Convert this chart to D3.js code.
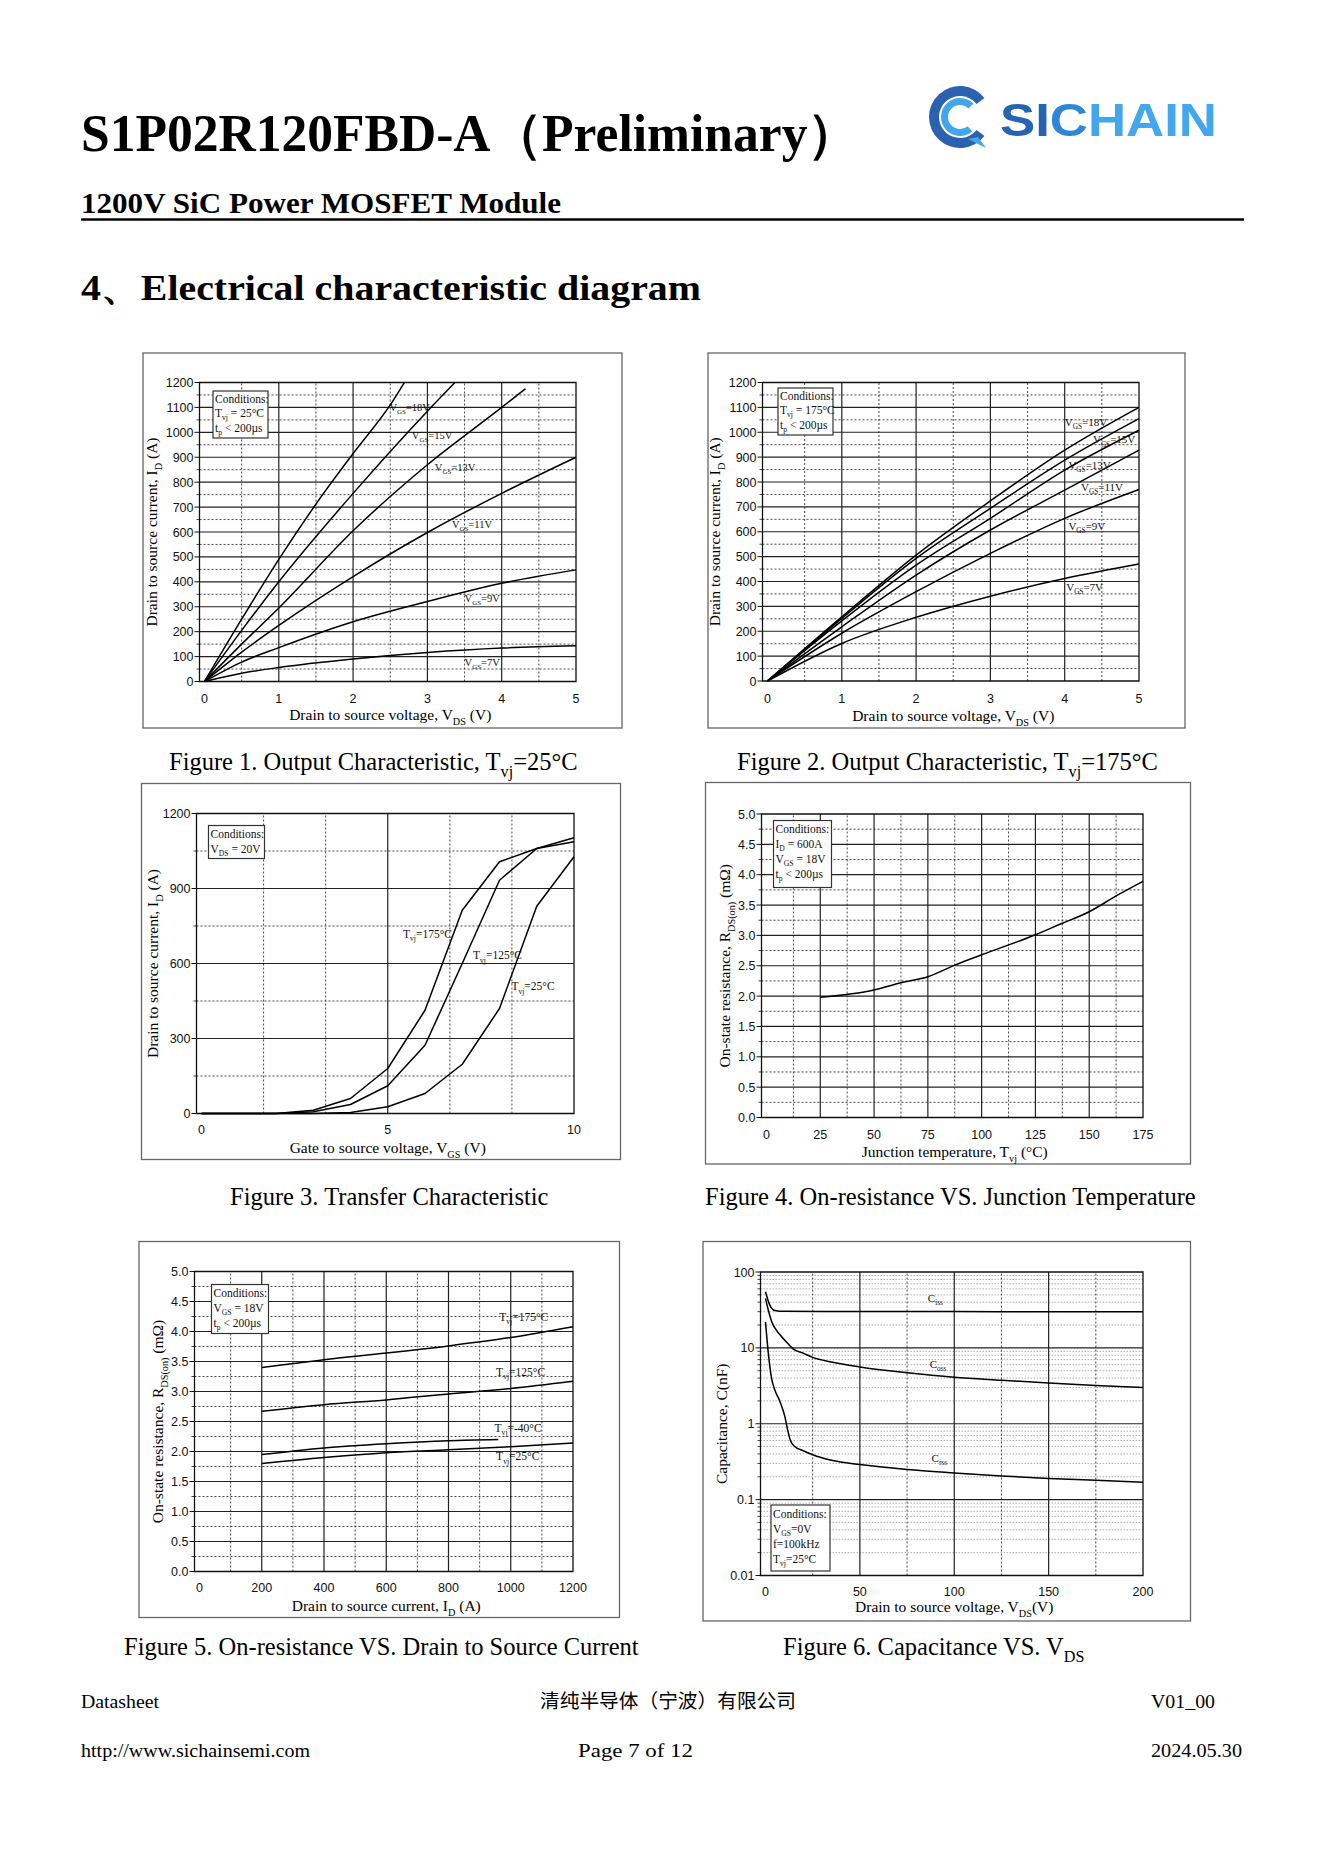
<!DOCTYPE html>
<html><head><meta charset="utf-8">
<script src="https://cdn.jsdelivr.net/npm/d3@7"></script>
<style>body{margin:0;background:#fff}svg{display:block}</style>
</head><body>
<script>
// ================= DATA =================
// Figure 1: Output characteristic, Tvj = 25°C  (VDS [V], ID [A])
const fig1_VGS18 = [[0,0],[0.5,250],[1,490],[1.5,712],[2,915],[2.5,1110],[2.69,1200]];
const fig1_VGS15 = [[0,0],[0.5,205],[1,400],[2,755],[3,1085],[3.37,1200]];
const fig1_VGS13 = [[0,0],[0.5,150],[1,295],[2,605],[3,870],[4,1100],[4.32,1175]];
const fig1_VGS11 = [[0,0],[0.5,118],[1,225],[2,421],[3,598],[4,755],[5,900]];
const fig1_VGS9  = [[0,0],[0.5,78],[1,136],[2,240],[3,321],[4,394],[5,448]];
const fig1_VGS7  = [[0,0],[0.5,33],[1,56],[2,90],[3,116],[4,134],[5,143]];
const fig1_labelText = ["18V","15V","13V","11V","9V","7V"];
const fig1_labelAt   = [[2.49,1103],[2.79,990],[3.1,860],[3.33,632],[3.5,334],[3.5,80]];

// Figure 2: Output characteristic, Tvj = 175°C
const fig2_VGS18 = [[0,0],[1,258],[2,506],[3,724],[4,928],[5,1100]];
const fig2_VGS15 = [[0,0],[1,252],[2,493],[3,694],[4,888],[5,1055]];
const fig2_VGS13 = [[0,0],[1,242],[2,466],[3,654],[4,848],[5,1008]];
const fig2_VGS11 = [[0,0],[1,218],[2,426],[3,607],[4,767],[5,928]];
const fig2_VGS9  = [[0,0],[1,192],[2,359],[3,513],[4,654],[5,770]];
const fig2_VGS7  = [[0,0],[1,151],[2,256],[3,341],[4,412],[5,470]];
const fig2_labelText = ["18V","15V","13V","11V","9V","7V"];
const fig2_labelAt   = [[4.0,1042],[4.38,971],[4.05,868],[4.22,781],[4.05,624],[4.02,379]];

// Figure 3: Transfer characteristic (VGS [V], ID [A])
const fig3_T175 = [[0,0],[2,0],[3,13],[4,60],[5,180],[6,413],[7,813],[8,1007],[9,1060],[10,1087]];
const fig3_T125 = [[0,0],[2,0],[3,7],[4,36],[5,111],[6,273],[7,600],[8,933],[9,1060],[10,1103]];
const fig3_T25  = [[0,0],[3,0],[4,4],[5,27],[6,80],[7,197],[8,420],[9,829],[10,1027]];
const fig3_labelText = ["175°C","125°C","25°C"];
const fig3_labelAt   = [[5.41,720],[7.29,633],[8.32,509]];

// Figure 4: RDS(on) vs junction temperature
const fig4_Tvj = [25,50,62.5,75,87.5,100,125,137.5,150,162.5,175];
const fig4_Rds = [1.98,2.10,2.22,2.32,2.51,2.68,3.01,3.20,3.39,3.65,3.89];

// Figure 5: RDS(on) vs drain current
const fig5_ID   = [200,400,600,800,1000,1200];
const fig5_R175 = [3.40,3.53,3.64,3.76,3.90,4.08];
const fig5_R125 = [2.67,2.78,2.86,2.96,3.05,3.17];
const fig5_R25  = [1.80,1.90,1.98,2.03,2.08,2.14];
const fig5_IDm40 = [200,400,600,800,960];
const fig5_Rm40  = [1.95,2.06,2.13,2.18,2.20];
const fig5_labelText = ["175°C","125°C","-40°C","25°C"];
const fig5_labelAt   = [[963,4.25],[953,3.33],[948,2.40],[953,1.92]];

// Figure 6: Capacitance vs VDS (V, nF)
const fig6_Ciss = [[0,55],[1,45],[2,38],[3,34],[4,32],[5,31],[7,30.5],[10,30.3],[50,30.2],[100,30.1],[150,30],[200,30]];
const fig6_Coss = [[0,45],[1.4,32],[3.2,22.4],[7.6,15],[12,11.3],[14.6,9.7],[20,8.5],[25,7.5],[35,6.5],[50,5.6],[75,4.7],[100,4.1],[125,3.75],[150,3.45],[175,3.2],[200,3.0]];
const fig6_Crss = [[0,22],[1.4,9],[3.2,4.0],[4.9,2.8],[7.6,1.98],[10.2,1.26],[11.5,0.88],[13.2,0.6],[15.5,0.5],[20,0.44],[25,0.39],[35,0.33],[50,0.29],[75,0.25],[100,0.225],[125,0.205],[150,0.19],[175,0.18],[200,0.17]];
const fig6_labelSub = ["iss","oss","rss"];
const fig6_labelAt  = [[86,45.5],[87,6.1],[88,0.355]];

// Tick labels
const ticks_VDS5 = [0,1,2,3,4,5];
const ticks_ID1200 = d3.range(0,1201,100);
const ticks_VGS10 = [0,5,10];
const ticks_ID300 = [0,300,600,900,1200];
const ticks_Tvj = [0,25,50,75,100,125,150,175];
const ticks_R = [0,0.5,1,1.5,2,2.5,3,3.5,4,4.5,5];
const ticks_ID200 = [0,200,400,600,800,1000,1200];
const ticks_VDS200 = [0,50,100,150,200];
const ticks_C = [0.01,0.1,1,10,100];

// ================= DRAWING =================
const SERIF = "'Liberation Serif','Times New Roman',serif";
const SANS = "'Liberation Sans',Arial,sans-serif";
const CJK = "'Noto Sans CJK SC',sans-serif";
const svg = d3.select("body").append("svg").attr("width",1323).attr("height",1871);

function rich(text, parts, fs){
  let sh=false; const d=fs*0.3;
  parts.forEach(p=>{
    const s = typeof p==="string"?[p,0]:p;
    const t=text.append("tspan").text(s[0]);
    if(s[1]){ t.attr("font-size",fs*0.66); if(!sh){t.attr("dy",d);sh=true;} }
    else if(sh){ t.attr("dy",-d); sh=false; }
  });
  return text;
}
function txt(x,y,fs,family,parts,opt={}){
  const t=svg.append("text").attr("x",x).attr("y",y).attr("font-size",fs).attr("font-family",family).attr("fill",opt.fill||"#000");
  if(opt.weight) t.attr("font-weight",opt.weight);
  if(opt.anchor) t.attr("text-anchor",opt.anchor);
  if(opt.len) t.attr("textLength",opt.len).attr("lengthAdjust","spacingAndGlyphs");
  rich(t,parts,fs);
  return t;
}

// ---- header ----
txt(81,151,52,SERIF,["S1P02R120FBD-A（Preliminary）"],{weight:"bold",len:778});
txt(81,213,29,SERIF,["1200V SiC Power MOSFET Module"],{weight:"bold",len:480});
svg.append("line").attr("x1",81).attr("x2",1244).attr("y1",219.5).attr("y2",219.5).attr("stroke","#000").attr("stroke-width",2.5);
txt(81,300,36,SERIF,["4、Electrical characteristic diagram"],{weight:"bold",len:620});

// ---- logo ----
(function(){
  const g=svg.append("g").attr("transform","translate(960,117)");
  const a=d3.arc();
  const deg=Math.PI/180;
  g.append("path").attr("d",a({innerRadius:21,outerRadius:31,startAngle:128*deg,endAngle:412*deg})).attr("fill","#2b62b0");
  g.append("path").attr("d",a({innerRadius:12,outerRadius:19,startAngle:140*deg,endAngle:405*deg})).attr("fill","#43a5ea");
  g.append("path").attr("d","M8,22 L26,31 L18,20 Z").attr("fill","#43a5ea");
  const t=svg.append("text").attr("x",1000).attr("y",136).attr("font-family",SANS).attr("font-weight","bold").attr("font-size",46).attr("textLength",217).attr("lengthAdjust","spacingAndGlyphs");
  t.append("tspan").text("SI").attr("fill","#2563b3");
  t.append("tspan").text("C").attr("fill","#2f86d6");
  t.append("tspan").text("HAIN").attr("fill","#42a7ee");
})();

// ---- chart routine ----
function drawChart(c){
  const g=svg.append("g");
  const [bx0,by0,bx1,by1]=c.box;
  g.append("rect").attr("x",bx0).attr("y",by0).attr("width",bx1-bx0).attr("height",by1-by0)
    .attr("fill","none").attr("stroke","#666").attr("stroke-width",1.3);
  const x=c.x,y=c.y;
  const ax=x.range()[0]-5, xr=x.range()[1], yb=y.range()[0], yt=y.range()[1];
  const hl=(data)=>g.selectAll(null).data(data).join("line").attr("x1",ax).attr("x2",xr).attr("y1",d=>y(d)).attr("y2",d=>y(d));
  const vl=(data)=>g.selectAll(null).data(data).join("line").attr("y1",yb).attr("y2",yt).attr("x1",d=>x(d)).attr("x2",d=>x(d));
  hl(c.yMinor).attr("stroke",c.yMinorColor||"#333").attr("stroke-width",c.yMinorW||0.9).attr("stroke-dasharray",c.yMinorDash||"2,2");
  vl(c.xMinor).attr("stroke","#333").attr("stroke-width",0.9).attr("stroke-dasharray","2,2");
  hl(c.yMajor).attr("stroke","#222").attr("stroke-width",1.2);
  vl(c.xMajor).attr("stroke","#222").attr("stroke-width",1.2);
  g.append("path").attr("d",`M${ax},${yt}H${xr}V${yb}H${ax}Z`).attr("fill","none").attr("stroke","#111").attr("stroke-width",1.3);
  g.selectAll(null).data(c.yTicks).join("line").attr("x1",ax-5).attr("x2",ax).attr("y1",d=>y(d)).attr("y2",d=>y(d)).attr("stroke","#111").attr("stroke-width",1);
  g.selectAll(null).data(c.yMinor).join("line").attr("x1",ax-3).attr("x2",ax).attr("y1",d=>y(d)).attr("y2",d=>y(d)).attr("stroke","#111").attr("stroke-width",0.8);
  g.selectAll(null).data(c.xTicks).join("text").attr("x",d=>x(d)).attr("y",c.xTickY).attr("text-anchor","middle")
    .attr("font-family",SANS).attr("font-size",12.5).attr("fill","#111").text(c.xFmt||(d=>d));
  g.selectAll(null).data(c.yTicks).join("text").attr("x",ax-6).attr("y",d=>y(d)+4.5).attr("text-anchor","end")
    .attr("font-family",SANS).attr("font-size",12.5).attr("fill","#111").text(c.yFmt||(d=>d));
  const xt=g.append("text").attr("x",(x.range()[0]+xr)/2).attr("y",c.xTitleY).attr("text-anchor","middle").attr("font-family",SERIF).attr("font-size",15.5);
  rich(xt,c.xTitle,15.5);
  const ym=(yb+yt)/2;
  const yt2=g.append("text").attr("transform",`translate(${c.yTitleX},${ym}) rotate(-90)`).attr("text-anchor","middle").attr("dy","0.35em").attr("font-family",SERIF).attr("font-size",15.5);
  rich(yt2,c.yTitle,15.5);
  const line=d3.line().x(d=>x(d[0])).y(d=>y(d[1])).curve(c.curve||d3.curveMonotoneX);
  c.series.forEach(s=>g.append("path").attr("d",line(s)).attr("fill","none").attr("stroke","#000").attr("stroke-width",1.5).attr("stroke-linejoin","round"));
  (c.labels||[]).forEach(l=>{
    const t=g.append("text").attr("x",x(l.at[0])).attr("y",y(l.at[1])+4).attr("font-family",SERIF).attr("font-size",c.labelSize||11.5).attr("fill","#111");
    rich(t,l.parts,c.labelSize||11.5);
  });
  const cb=c.cond;
  g.append("rect").attr("x",cb.r[0]).attr("y",cb.r[1]).attr("width",cb.r[2]).attr("height",cb.r[3]).attr("fill","#fff").attr("stroke","#333").attr("stroke-width",1.2);
  cb.lines.forEach((ln,i)=>{
    const t=g.append("text").attr("x",cb.r[0]+2).attr("y",cb.base[i]).attr("font-family",SERIF).attr("font-size",11.5).attr("fill","#111");
    rich(t,ln,11.5);
  });
}

const vgsLabels=(txts,at)=>txts.map((s,i)=>({parts:["V",["GS",1],"="+s],at:at[i]}));
const tvjLabels=(txts,at)=>txts.map((s,i)=>({parts:["T",["vj",1],"="+s],at:at[i]}));
const outTitleY=["Drain to source current, I",["D",1]," (A)"];
const vdsTitle=["Drain to source voltage, V",["DS",1]," (V)"];
const rTitle=["On-state resistance, R",["DS(on)",1]," (mΩ)"];
const steps=(a,b,s)=>d3.range(a,b+1e-9,s);

// Figure 1
drawChart({
  box:[143,353,622,728],
  x:d3.scaleLinear().domain([0,5]).range([204.5,576]),
  y:d3.scaleLinear().domain([0,1200]).range([681.5,382.5]),
  xMajor:[1,2,3,4], xMinor:[0.5,1.5,2.5,3.5,4.5],
  yMajor:steps(100,1100,100), yMinor:steps(50,1150,100),
  xTicks:ticks_VDS5, yTicks:ticks_ID1200, xTickY:702.5, xTitleY:720, yTitleX:152,
  xTitle:vdsTitle, yTitle:outTitleY,
  series:[fig1_VGS18,fig1_VGS15,fig1_VGS13,fig1_VGS11,fig1_VGS9,fig1_VGS7],
  labels:vgsLabels(fig1_labelText,fig1_labelAt), labelSize:10.5,
  cond:{r:[213,391,55,47],base:[403,417,432],lines:[["Conditions:"],["T",["vj",1]," = 25°C"],["t",["p",1]," < 200µs"]]}
});
// Figure 2
drawChart({
  box:[708,353,1185,728],
  x:d3.scaleLinear().domain([0,5]).range([767.5,1139]),
  y:d3.scaleLinear().domain([0,1200]).range([681,382.5]),
  xMajor:[1,2,3,4], xMinor:[0.5,1.5,2.5,3.5,4.5],
  yMajor:steps(100,1100,100), yMinor:steps(50,1150,100),
  xTicks:ticks_VDS5, yTicks:ticks_ID1200, xTickY:702.5, xTitleY:721, yTitleX:715,
  xTitle:vdsTitle, yTitle:outTitleY,
  series:[fig2_VGS18,fig2_VGS15,fig2_VGS13,fig2_VGS11,fig2_VGS9,fig2_VGS7],
  labels:vgsLabels(fig2_labelText,fig2_labelAt), labelSize:11,
  cond:{r:[778,388,55,47],base:[400,414,429],lines:[["Conditions:"],["T",["vj",1]," = 175°C"],["t",["p",1]," < 200µs"]]}
});
// Figure 3
drawChart({
  box:[141.5,783.5,620.5,1159.5],
  x:d3.scaleLinear().domain([0,10]).range([201.5,574]),
  y:d3.scaleLinear().domain([0,1200]).range([1113.5,813.5]),
  xMajor:[5], xMinor:[5/3,10/3,20/3,25/3],
  yMajor:[300,600,900], yMinor:[150,450,750,1050],
  xTicks:ticks_VGS10, yTicks:ticks_ID300, xTickY:1134, xTitleY:1153, yTitleX:153,
  xTitle:["Gate to source voltage, V",["GS",1]," (V)"], yTitle:outTitleY,
  series:[fig3_T175,fig3_T125,fig3_T25], curve:d3.curveLinear,
  labels:tvjLabels(fig3_labelText,fig3_labelAt),
  cond:{r:[208.5,825.5,56,33],base:[837.5,852.5],lines:[["Conditions:"],["V",["DS",1]," = 20V"]]}
});
// Figure 4
drawChart({
  box:[705.5,782.5,1190.5,1164],
  x:d3.scaleLinear().domain([0,175]).range([766.5,1143]),
  y:d3.scaleLinear().domain([0,5]).range([1117.5,814]),
  xMajor:[25,50,75,100,125,150], xMinor:steps(12.5,162.5,25),
  yMajor:steps(0.5,4.5,0.5), yMinor:steps(0.25,4.75,0.5),
  xTicks:ticks_Tvj, yTicks:ticks_R, yFmt:d3.format(".1f"), xTickY:1138.5, xTitleY:1157, yTitleX:725,
  xTitle:["Junction temperature, T",["vj",1]," (°C)"], yTitle:rTitle,
  series:[fig4_Tvj.map((t,i)=>[t,fig4_Rds[i]])],
  cond:{r:[773.5,820.5,58,67],base:[832.5,847.5,862.5,878],lines:[["Conditions:"],["I",["D",1]," = 600A"],["V",["GS",1]," = 18V"],["t",["p",1]," < 200µs"]]}
});
// Figure 5
drawChart({
  box:[139,1241.5,619.5,1617.5],
  x:d3.scaleLinear().domain([0,1200]).range([199.5,573]),
  y:d3.scaleLinear().domain([0,5]).range([1571.5,1271.5]),
  xMajor:[200,400,600,800,1000], xMinor:steps(100,1100,200),
  yMajor:steps(0.5,4.5,0.5), yMinor:steps(0.25,4.75,0.5),
  xTicks:ticks_ID200, yTicks:ticks_R, yFmt:d3.format(".1f"), xTickY:1592, xTitleY:1611, yTitleX:158,
  xTitle:["Drain to source current, I",["D",1]," (A)"], yTitle:rTitle,
  series:[fig5_ID.map((v,i)=>[v,fig5_R175[i]]),fig5_ID.map((v,i)=>[v,fig5_R125[i]]),
          fig5_IDm40.map((v,i)=>[v,fig5_Rm40[i]]),fig5_ID.map((v,i)=>[v,fig5_R25[i]])],
  labels:tvjLabels(fig5_labelText,fig5_labelAt),
  cond:{r:[211.5,1284.5,57,49],base:[1296.5,1311.5,1326.5],lines:[["Conditions:"],["V",["GS",1]," = 18V"],["t",["p",1]," < 200µs"]]}
});
// Figure 6
const logMinor=[];
[0.01,0.1,1,10].forEach(d=>{for(let k=2;k<=9;k++) logMinor.push(d*k);});
drawChart({
  box:[703,1241.5,1190.5,1621],
  x:d3.scaleLinear().domain([0,200]).range([765.5,1143]),
  y:d3.scaleLog().domain([0.01,100]).range([1575.5,1272]),
  xMajor:[50,100,150], xMinor:[25,75,125,175],
  yMajor:[0.1,1,10], yMinor:logMinor, yMinorColor:"#999", yMinorW:0.8, yMinorDash:"1.5,1.5",
  xTicks:ticks_VDS200, yTicks:ticks_C, yFmt:d=>String(d), xTickY:1596, xTitleY:1612, yTitleX:722,
  xTitle:["Drain to source voltage, V",["DS",1],"(V)"], yTitle:["Capacitance, C(nF)"],
  series:[fig6_Ciss,fig6_Coss,fig6_Crss],
  labels:fig6_labelSub.map((s,i)=>({parts:["C",[s,1]],at:fig6_labelAt[i]})), labelSize:11,
  cond:{r:[771,1505,59,66],base:[1518,1533,1548,1563],lines:[["Conditions:"],["V",["GS",1],"=0V"],["f=100kHz"],["T",["vj",1],"=25°C"]]}
});

// ---- captions ----
const CAP=24.5;
txt(169,770,CAP,SERIF,["Figure 1. Output Characteristic, T",["vj",1],"=25°C"]);
txt(737,770,CAP,SERIF,["Figure 2. Output Characteristic, T",["vj",1],"=175°C"]);
txt(230,1205,CAP,SERIF,["Figure 3. Transfer Characteristic"]);
txt(705,1205,CAP,SERIF,["Figure 4. On-resistance VS. Junction Temperature"]);
txt(124,1655,CAP,SERIF,["Figure 5. On-resistance VS. Drain to Source Current"]);
txt(783,1655,CAP,SERIF,["Figure 6. Capacitance VS. V",["DS",1]]);

// ---- footer ----
txt(81,1708,19,SERIF,["Datasheet"],{len:78});
txt(540,1708,19.5,CJK,["清纯半导体（宁波）有限公司"],{len:256});
txt(1151,1708,19,SERIF,["V01_00"],{len:64});
txt(81,1757,19,SERIF,["http://www.sichainsemi.com"],{len:229});
txt(578,1757,19,SERIF,["Page  7  of  12"],{len:115});
txt(1151,1757,19,SERIF,["2024.05.30"],{len:91});
</script>
</body></html>
